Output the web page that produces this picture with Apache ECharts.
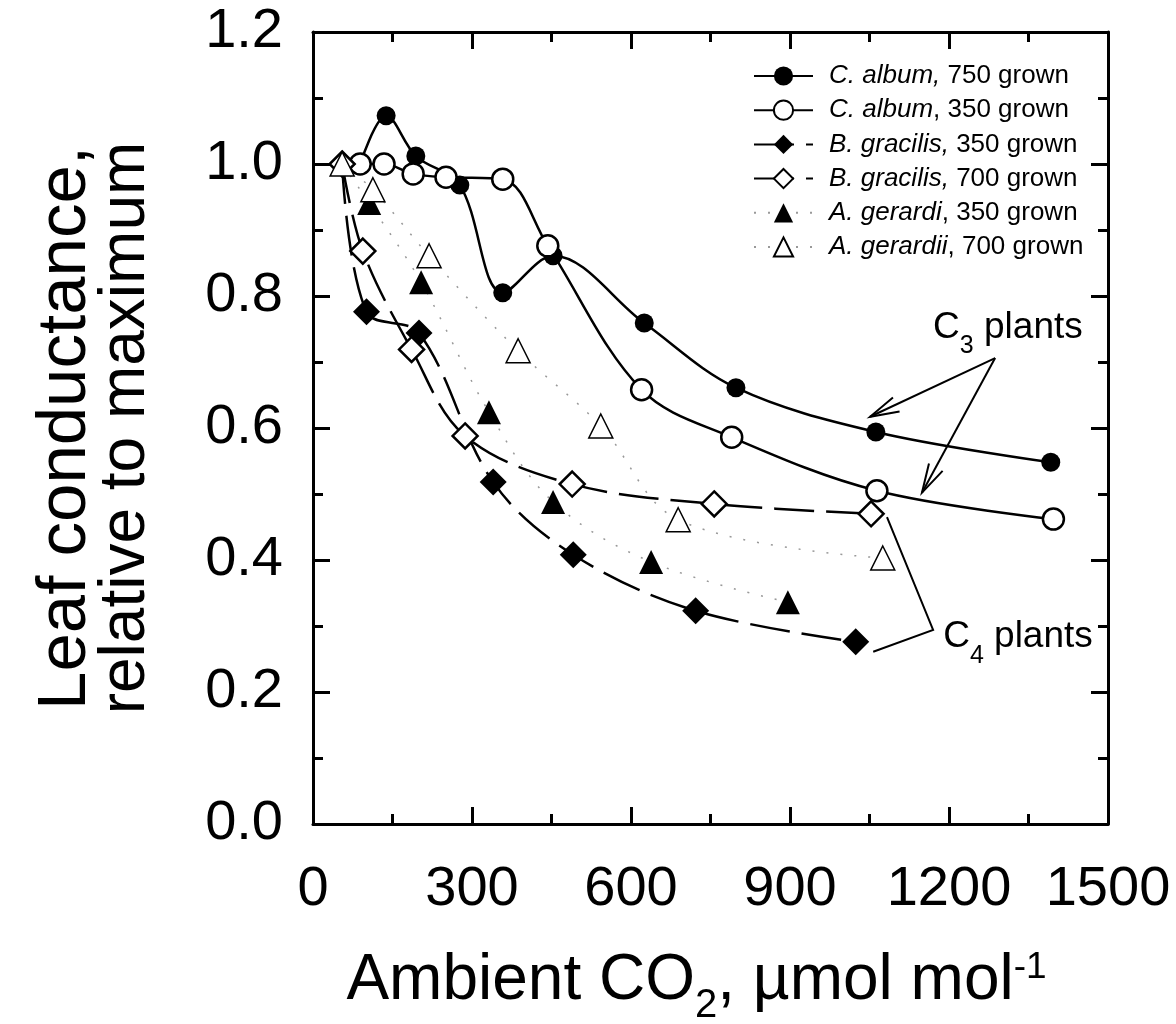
<!DOCTYPE html>
<html>
<head>
<meta charset="utf-8">
<script src="https://cdn.jsdelivr.net/npm/echarts@6/dist/echarts.min.js"></script>
<style>
html, body { margin: 0; padding: 0; background: #fff; }
#container { width: 1176px; height: 1024px; }
</style>
</head>
<body>
<div id="container"></div>
<script>
// values: ambient CO2 (umol/mol) vs conductance relative to max
var albumHighX = [89, 138, 194, 277, 358, 453, 625, 798, 1062, 1392];
var albumHighY = [1.0, 1.073, 1.012, 0.968, 0.805, 0.861, 0.759, 0.661, 0.594, 0.548];
var albumLowX = [89, 134, 189, 251, 358, 443, 620, 790, 1064, 1397];
var albumLowY = [1.0, 1.0, 0.985, 0.980, 0.977, 0.876, 0.658, 0.586, 0.505, 0.462];
var gracilisLowX = [55, 101, 200, 340, 491, 722, 1024];
var gracilisLowY = [1.0, 0.776, 0.744, 0.518, 0.408, 0.323, 0.276];
var gracilisHighX = [55, 94, 186, 287, 489, 757, 1053];
var gracilisHighY = [1.0, 0.868, 0.719, 0.588, 0.515, 0.485, 0.470];
var gerardiLowX = [55, 106, 204, 332, 453, 638, 896];
var gerardiLowY = [1.0, 0.941, 0.821, 0.624, 0.488, 0.397, 0.336];
var gerardiHighX = [55, 113, 219, 387, 543, 689, 1075];
var gerardiHighY = [1.0, 0.961, 0.861, 0.717, 0.603, 0.461, 0.403];

var seriesNames = ['C. album, 750 grown', 'C. album, 350 grown', 'B. gracilis, 350 grown',
    'B. gracilis, 700 grown', 'A. gerardi, 350 grown', 'A. gerardii, 700 grown'];
var legendLabels = ['{i|C. album,} 750 grown', '{i|C. album}, 350 grown', '{i|B. gracilis,} 350 grown',
    '{i|B. gracilis,} 700 grown', '{i|A. gerardi}, 350 grown', '{i|A. gerardii}, 700 grown'];

// annotation anchors, in data units
var c3Label = [1170, 0.780];
var c3ArrowFrom = [1287, 0.706];
var c3ArrowTips = [[1051, 0.617], [1149, 0.502]];
var c4Label = [1189, 0.311];
var c4Bracket = [[1083, 0.465], [1170, 0.294], [1057, 0.261]];

var FONT = 'Liberation Sans, Arial, sans-serif';

function pairs(xs, ys) {
    return xs.map(function (x, i) { return [x, ys[i]]; });
}

var solid = { color: '#000', width: 2.5 };
var dashed = { color: '#000', width: 2.5, type: [40, 12] };
var dotted = { color: '#999', width: 1.5, type: [2, 12] };
var filled = { color: '#000' };
var open = { color: '#fff', borderColor: '#000', borderWidth: 2.5 };
var openThin = { color: '#fff', borderColor: '#000', borderWidth: 1.5 };

function makeSeries(i, xs, ys, symbol, size, itemStyle, lineStyle) {
    return {
        name: seriesNames[i],
        type: 'line',
        data: pairs(xs, ys),
        smooth: 0.35,
        symbol: symbol,
        symbolSize: size,
        itemStyle: itemStyle,
        lineStyle: lineStyle,
        emphasis: { disabled: true }
    };
}

function axisCommon(showLabel, labelMargin, fmt) {
    return {
        axisLine: { show: true, onZero: false, lineStyle: { color: '#000', width: 3 } },
        axisTick: { show: true, inside: true, length: 17, lineStyle: { color: '#000', width: 3 } },
        minorTick: { show: true, splitNumber: 2, length: 10, lineStyle: { color: '#000', width: 3 } },
        splitLine: { show: false },
        minorSplitLine: { show: false },
        axisLabel: {
            show: showLabel, margin: labelMargin, fontSize: 56, fontFamily: FONT, color: '#000',
            showMinLabel: true, showMaxLabel: true, formatter: fmt
        }
    };
}

var myChart = echarts.init(document.getElementById('container'));

var xBottom = Object.assign({
    type: 'value', position: 'bottom', min: 0, max: 1500, interval: 300,
    name: '{n|Ambient CO}{s|2}{n|, \u00b5mol mol}{p|-1}',
    nameLocation: 'middle', nameGap: 125, nameMoveOverlap: false,
    nameTextStyle: {
        padding: [0, 28, 0, 0],
        rich: {
            n: { fontSize: 64, lineHeight: 64, verticalAlign: 'top', fontFamily: FONT, color: '#000' },
            s: { fontSize: 40, lineHeight: 114, fontFamily: FONT, color: '#000' },
            p: { fontSize: 37, lineHeight: 40, verticalAlign: 'top', fontFamily: FONT, color: '#000' }
        }
    }
}, axisCommon(true, 38, function (v) { return String(v); }));
var xTop = Object.assign({
    type: 'value', position: 'top', min: 0, max: 1500, interval: 300
}, axisCommon(false, 0));
var yLeft = Object.assign({
    type: 'value', position: 'left', min: 0, max: 1.2, interval: 0.2,
    name: '{a|Leaf conductance,}\n{b|relative to maximum}',
    nameLocation: 'middle', nameGap: 155, nameRotate: 90, nameMoveOverlap: false,
    nameTextStyle: {
        rich: {
            a: { fontSize: 69, lineHeight: 56, fontFamily: FONT, color: '#000' },
            b: { fontSize: 64, lineHeight: 64, fontFamily: FONT, color: '#000' }
        }
    }
}, axisCommon(true, 30, function (v) { return v.toFixed(1); }));
var yRight = Object.assign({
    type: 'value', position: 'right', min: 0, max: 1.2, interval: 0.2
}, axisCommon(false, 0));

var option = {
    animation: false,
    backgroundColor: '#fff',
    grid: { left: 313, right: 68, top: 32, bottom: 200, containLabel: false, outerBoundsMode: 'none' },
    legend: {
        orient: 'vertical',
        left: 753,
        top: 63,
        padding: 0,
        itemWidth: 59,
        itemHeight: 24,
        itemGap: 8.2,
        selectedMode: false,
        data: seriesNames,
        formatter: function (name) { return legendLabels[seriesNames.indexOf(name)]; },
        textStyle: {
            fontFamily: FONT, fontSize: 26, lineHeight: 26, color: '#000', padding: [0, 0, 0, 11],
            rich: { i: { fontFamily: FONT, fontSize: 26, lineHeight: 26, fontStyle: 'italic', color: '#000' } }
        }
    },
    xAxis: [xBottom, xTop],
    yAxis: [yLeft, yRight],
    series: [
        makeSeries(0, albumHighX, albumHighY, 'circle', 19, filled, solid),
        makeSeries(1, albumLowX, albumLowY, 'circle', 21, open, solid),
        makeSeries(2, gracilisLowX, gracilisLowY, 'diamond', 27, filled, dashed),
        makeSeries(3, gracilisHighX, gracilisHighY, 'diamond', 25, open, dashed),
        makeSeries(4, gerardiLowX, gerardiLowY, 'triangle', 24, filled, dotted),
        makeSeries(5, gerardiHighX, gerardiHighY, 'triangle', 24, openThin, dotted)
    ]
};
myChart.setOption(option);

// annotations: C3 arrows and C4 bracket
function toPx(p) {
    return myChart.convertToPixel({ xAxisIndex: 0, yAxisIndex: 0 }, p);
}
function arrowHead(from, tip) {
    var dx = from[0] - tip[0], dy = from[1] - tip[1];
    var len = Math.sqrt(dx * dx + dy * dy);
    var ux = dx / len, uy = dy / len;
    var a = 15 * Math.PI / 180, L = 30;
    var p1 = [tip[0] + L * (ux * Math.cos(a) - uy * Math.sin(a)), tip[1] + L * (ux * Math.sin(a) + uy * Math.cos(a))];
    var p2 = [tip[0] + L * (ux * Math.cos(-a) - uy * Math.sin(-a)), tip[1] + L * (ux * Math.sin(-a) + uy * Math.cos(-a))];
    return [p1, tip, p2];
}
var lineStyle = { stroke: '#000', lineWidth: 2, fill: null };
var labelRich = {
    a: { fontSize: 37, lineHeight: 40, verticalAlign: 'top', fontFamily: FONT, fill: '#000' },
    b: { fontSize: 25, lineHeight: 74, fontFamily: FONT, fill: '#000' }
};
var graphics = [];
var from = toPx(c3ArrowFrom);
c3ArrowTips.forEach(function (t) {
    var tip = toPx(t);
    graphics.push({ type: 'polyline', shape: { points: [from, tip] }, style: lineStyle, silent: true });
    graphics.push({ type: 'polyline', shape: { points: arrowHead(from, tip) }, style: lineStyle, silent: true });
});
graphics.push({ type: 'polyline', shape: { points: c4Bracket.map(toPx) }, style: lineStyle, silent: true });
var c3 = toPx(c3Label), c4 = toPx(c4Label);
graphics.push({ type: 'text', x: c3[0], y: c3[1], silent: true,
    style: { text: '{a|C}{b|3}{a| plants}', rich: labelRich, align: 'left', verticalAlign: 'top' } });
graphics.push({ type: 'text', x: c4[0], y: c4[1], silent: true,
    style: { text: '{a|C}{b|4}{a| plants}', rich: labelRich, align: 'left', verticalAlign: 'top' } });
myChart.setOption({ graphic: graphics });
</script>
</body>
</html>
